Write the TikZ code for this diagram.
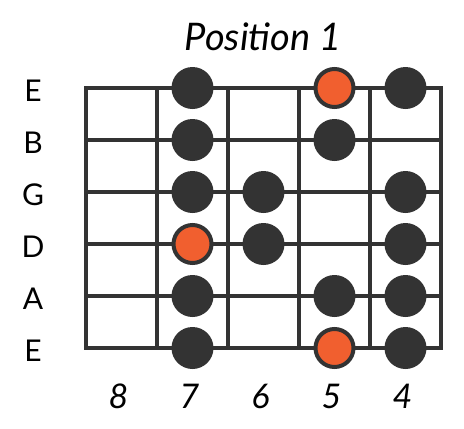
\documentclass[tikz,border=0pt]{standalone}
\usepackage{fontspec}
\setmainfont{Lato}
\definecolor{fretdark}{HTML}{333333}
\definecolor{rootorange}{HTML}{F15F2F}
\begin{document}
\begin{tikzpicture}[x=1pt, y=-1pt, line width=4.5pt,
	note/.style={circle, fill=fretdark, minimum size=42pt, inner sep=0pt},
	root/.style={circle, draw=fretdark, fill=rootorange, line width=4pt, minimum size=38pt, inner sep=0pt},
	stringname/.style={anchor=base, font=\fontsize{30}{30}\selectfont},
	fretnum/.style={anchor=base, font=\fontsize{34}{34}\selectfont\itshape}]

	\useasboundingbox (0,0) rectangle (464,429);

	%% title
	\node[anchor=base, font=\fontsize{38}{38}\selectfont\itshape] (title) at (263,50) {Position 1};

	%% fretboard
	\draw[fretdark] (86,88) rectangle (441,348);
	\foreach \y in {140,192,244,296}
		\draw[fretdark] (86,\y) -- (441,\y);
	\foreach \x in {157,228,299,370}
		\draw[fretdark] (\x,88) -- (\x,348);

	%% string names
	\foreach \s/\y/\t in {1/88/E,2/140/B,3/192/G,4/244/D,5/296/A,6/348/E}
		\node[stringname] (s-\s) at (33,\y+13.7) {\t};

	%% fret numbers
	\foreach \f/\x in {8/121.5,7/192.5,6/263.5,5/334.5,4/405.5}
		\node[fretnum] (f-\f) at (\x-3,408) {\f};

	%% notes
	\node[note] (n-7-1) at (192.5,88) {};
	\node[root] (n-5-1) at (334.5,88) {};
	\node[note] (n-4-1) at (405.5,88) {};
	\node[note] (n-7-2) at (192.5,140) {};
	\node[note] (n-5-2) at (334.5,140) {};
	\node[note] (n-7-3) at (192.5,192) {};
	\node[note] (n-6-3) at (263.5,192) {};
	\node[note] (n-4-3) at (405.5,192) {};
	\node[root] (n-7-4) at (192.5,244) {};
	\node[note] (n-6-4) at (263.5,244) {};
	\node[note] (n-4-4) at (405.5,244) {};
	\node[note] (n-7-5) at (192.5,296) {};
	\node[note] (n-5-5) at (334.5,296) {};
	\node[note] (n-4-5) at (405.5,296) {};
	\node[note] (n-7-6) at (192.5,348) {};
	\node[root] (n-5-6) at (334.5,348) {};
	\node[note] (n-4-6) at (405.5,348) {};

\end{tikzpicture}
\end{document}
